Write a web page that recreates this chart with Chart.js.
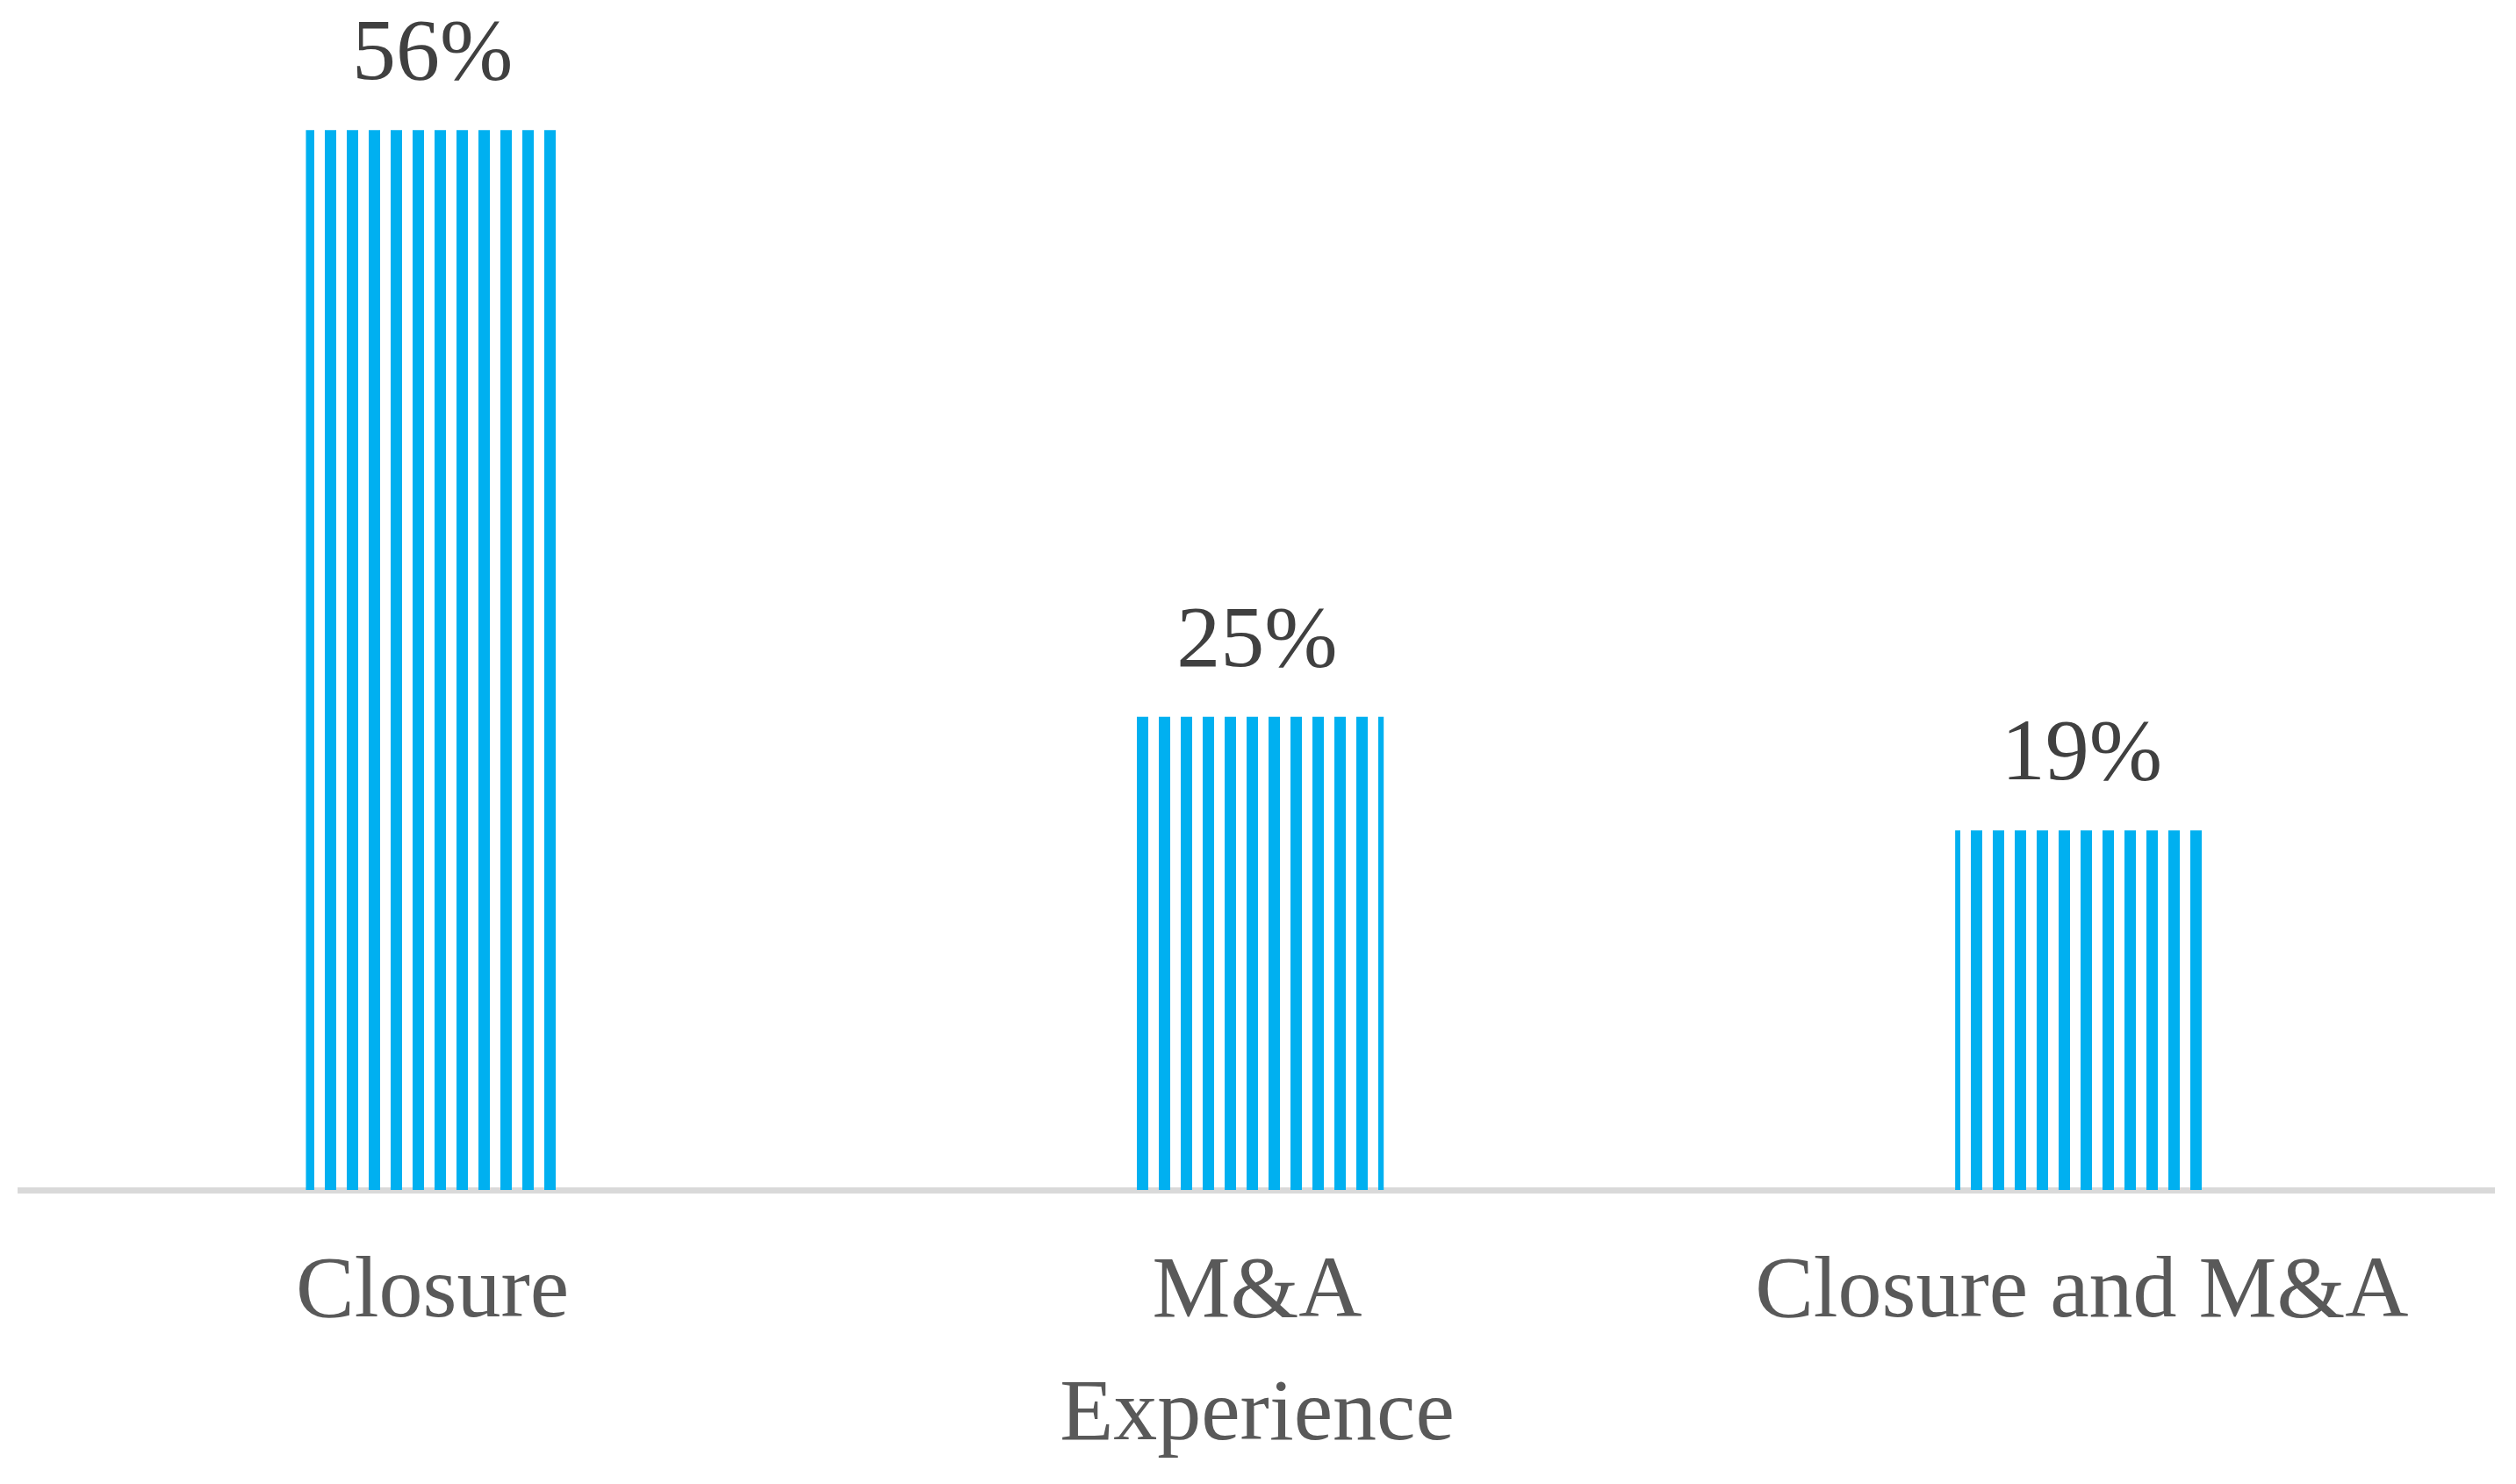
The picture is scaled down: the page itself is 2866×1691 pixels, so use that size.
<!DOCTYPE html>
<html>
<head>
<meta charset="utf-8">
<script src="https://cdn.jsdelivr.net/npm/chart.js@4.4.1/dist/chart.umd.min.js"></script>
<style>
  html, body { margin: 0; padding: 0; background: #ffffff; }
  #wrap { width: 2866px; height: 1691px; }
</style>
</head>
<body>
<div id="wrap"><canvas id="bar_chart"></canvas></div>
<script>
var categories = ["Closure", ["M&A", "Experience"], "Closure and M&A"];
var shares = [56, 25, 19];

// vertical stripe fill, 13px blue / 12px white
function stripes() {
    var c = document.createElement('canvas');
    c.width = 25; c.height = 4;
    var g = c.getContext('2d');
    g.fillStyle = '#00b0f0';
    g.fillRect(20, 0, 5, 4);
    g.fillRect(0, 0, 8, 4);
    return document.getElementById('bar_chart').getContext('2d').createPattern(c, 'repeat');
}

var valueLabels = {
    id: 'valueLabels',
    afterDatasetsDraw: function (chart) {
        var ctx = chart.ctx;
        var meta = chart.getDatasetMeta(0);
        ctx.save();
        ctx.font = '100px "Liberation Serif", "Times New Roman", serif';
        ctx.fillStyle = '#404040';
        ctx.textAlign = 'center';
        ctx.textBaseline = 'alphabetic';
        meta.data.forEach(function (bar, i) {
            ctx.fillText(shares[i] + '%', bar.x, bar.y - 58);
        });
        ctx.restore();
    }
};

new Chart(document.getElementById("bar_chart").getContext("2d"), {
    type: 'bar',
    data: {
        labels: categories,
        datasets: [{
            data: shares,
            backgroundColor: stripes(),
            borderWidth: 0,
            categoryPercentage: 1,
            barPercentage: 0.307
        }]
    },
    options: {
        responsive: true,
        maintainAspectRatio: false,
        animation: false,
        layout: { padding: { top: 62, left: 23, right: 25, bottom: -41 } },
        plugins: { legend: { display: false }, tooltip: { enabled: false } },
        scales: {
            x: {
                grid: { display: false, drawTicks: false },
                border: { display: true, color: '#d9d9d9', width: 7 },
                ticks: {
                    color: '#595959',
                    padding: 48,
                    font: { family: '"Liberation Serif", "Times New Roman", serif', size: 100, lineHeight: 1.4 },
                    maxRotation: 0,
                    autoSkip: false
                }
            },
            y: {
                display: false,
                min: 0,
                max: 60
            }
        }
    },
    plugins: [valueLabels]
});
</script>
</body>
</html>
